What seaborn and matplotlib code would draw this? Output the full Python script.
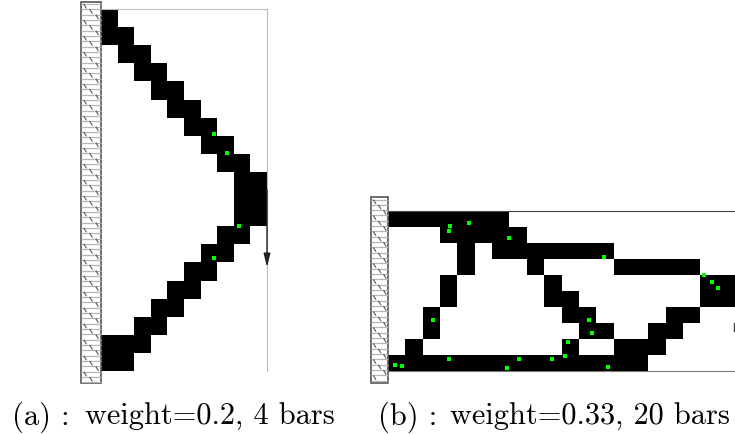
import numpy as np
import matplotlib
matplotlib.use("Agg")
import matplotlib.pyplot as plt
import seaborn as sns
from matplotlib.colors import ListedColormap
from matplotlib.patches import Rectangle

W, H = 735, 434

# filled cells per row
filled_a = [[0], [0, 1], [1, 2], [2, 3], [3, 4], [4, 5], [5, 6], [6, 7], [7, 8], [8, 9],
            [8, 9], [8, 9], [7, 8], [6, 7], [5, 6], [4, 5], [3, 4], [2, 3], [0, 1, 2], [0, 1]]
filled_b = [[0, 1, 2, 3, 4, 5, 6],
            [3, 4, 5, 6, 7],
            [4, 6, 7, 8, 9, 10, 11, 12],
            [4, 8, 13, 14, 15, 16, 17],
            [3, 9, 18, 19],
            [3, 9, 10, 18, 19],
            [2, 10, 11, 16, 17],
            [2, 11, 12, 15, 16],
            [1, 10, 13, 14, 15],
            [0, 1, 2, 3, 4, 5, 6, 7, 8, 9, 10, 11, 12, 13, 14]]

# green points, in cell units
pts_a_x = [6.81, 7.59, 8.31, 6.81]
pts_a_y = [6.91, 7.96, 11.99, 13.76]
pts_b_x = [3.57, 3.52, 4.67, 6.97, 2.59, 3.52, 7.55, 9.45, 6.86, 0.40,
           0.81, 12.45, 18.21, 18.67, 19.02, 11.58, 11.76, 10.37, 10.20, 12.68]
pts_b_y = [0.94, 1.25, 0.75, 1.69, 6.81, 9.25, 9.25, 9.25, 9.81, 9.63,
           9.69, 2.88, 4.00, 4.44, 4.81, 6.81, 7.63, 8.19, 9.06, 9.75]

captions = ["(a) :", "weight=0.2, 4 bars", "(b) :", "weight=0.33, 20 bars"]


def to_grid(filled, ncols):
    grid = np.zeros((len(filled), ncols))
    for i, cols in enumerate(filled):
        grid[i, cols] = 1
    return grid


def panel(fig, box, filled, ncols, xs, ys):
    left, top, right, bottom = box
    ax = fig.add_axes([left / W, 1 - bottom / H, (right - left) / W, (bottom - top) / H])
    sns.heatmap(to_grid(filled, ncols), ax=ax, cmap=ListedColormap(["white", "black"]),
                vmin=0, vmax=1, cbar=False, xticklabels=False, yticklabels=False)
    xlim, ylim = ax.get_xlim(), ax.get_ylim()
    sns.scatterplot(x=xs, y=ys, ax=ax, marker="s", s=10, color="#00ff00", linewidth=0, zorder=5)
    ax.set_xlim(xlim)
    ax.set_ylim(ylim)
    ax.set_xlabel("")
    ax.set_ylabel("")
    return ax


def wall(ax, x0, y0, x1, y1):
    ys = np.arange(y0 + 2.5, y1, 5.33)
    ax.hlines(ys, x0, x1, color="#b5b5b5", lw=0.9)
    for k, y in enumerate(ys[:-1]):
        off = [3, 9, 15][k % 3] * (x1 - x0) / 20
        ax.plot([x0 + off, x0 + off + 2.2], [y + 0.4, y + 4], color="#444444", lw=0.7)
    ax.add_patch(Rectangle((x0, y0), x1 - x0, y1 - y0, fill=False, ec="#555555", lw=1.2))


fig = plt.figure(figsize=(W / 100, H / 100), dpi=100)

ax_a = panel(fig, (101, 9, 267, 371), filled_a, 10, pts_a_x, pts_a_y)
ax_a.spines["top"].set_visible(True)
ax_a.spines["right"].set_visible(True)
ax_a.spines["top"].set_color("#bbbbbb")
ax_a.spines["right"].set_color("#bbbbbb")
ax_a.annotate("", xy=(10, 14.26), xytext=(10, 10), annotation_clip=False,
              arrowprops=dict(arrowstyle="-|>,head_width=0.2,head_length=0.8", color="#222222",
                              lw=1, shrinkA=0, shrinkB=0))

ax_b = panel(fig, (388, 211, 735, 371), filled_b, 20, pts_b_x, pts_b_y)
ax_b.spines["top"].set_visible(True)
ax_b.spines["bottom"].set_visible(True)
ax_b.spines["top"].set_color("#444444")
ax_b.spines["bottom"].set_color("#777777")

# overlay in pixel units for the walls and captions
over = fig.add_axes([0, 0, 1, 1])
over.set_xlim(0, W)
over.set_ylim(H, 0)
over.axis("off")
wall(over, 81, 1.5, 101, 383)
wall(over, 371, 197, 388, 383)
# cut-off arrow at the right edge of panel (b)
over.plot([734.5, 734.5], [323, 331], color="#444444", lw=1)
for x, text in zip([12, 85, 378, 450], captions):
    over.text(x, 425, text, family="cmr10", fontsize=21.9, va="baseline")

fig.savefig("out.png", dpi=100)
